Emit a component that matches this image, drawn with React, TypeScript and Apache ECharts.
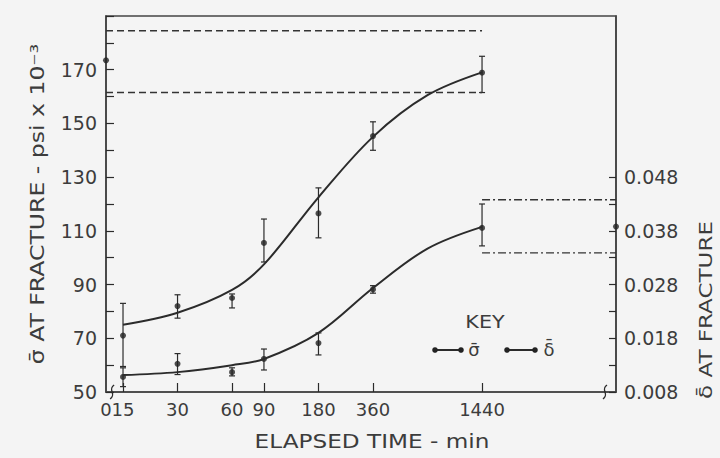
import React, { useEffect, useRef } from 'react';
import * as echarts from 'echarts';

// ---- data ----
const times = [15, 30, 60, 90, 180, 360, 1440];
// mean fracture stress (psi x 10^-3) with error-bar limits
const sigmaMean = [71, 82, 85, 105.5, 116.5, 145.3, 168.9];
const sigmaLow = [59.5, 77.5, 81.3, 98.4, 107.4, 140, 161.5];
const sigmaHigh = [83, 86.2, 86.5, 114.4, 126, 150.6, 175];
// mean fracture deflection with error-bar limits
const deltaMean = [0.0108, 0.01325, 0.0117, 0.01415, 0.0171, 0.0271, 0.03855];
const deltaLow = [0.009, 0.01125, 0.011, 0.0121, 0.0149, 0.0264, 0.0352];
const deltaHigh = [0.0125, 0.01515, 0.0125, 0.016, 0.019, 0.0278, 0.043];

// fitted curves
const curveTimes = [15, 30, 60, 90, 180, 360, 720, 1440];
const sigmaCurve = [75, 79.5, 88, 97.5, 122.5, 145, 160.5, 169];
const deltaCurve = [0.01115, 0.0117, 0.013, 0.01415, 0.019, 0.02735, 0.0347, 0.03875];

// control (unexposed) values and scatter bands
const sigmaControl = 173.5;
const sigmaControlBand = [161.5, 184.5];
const deltaControl = 0.0388;
const deltaControlBand = [0.0339, 0.0438];

// axes
const xTickTimes = [0, 15, 30, 60, 90, 180, 360, 1440];
const xTickLabels = ['0', '15', '30', '60', '90', '180', '360', '1440'];
const leftLabels = [50, 70, 90, 110, 130, 150, 170];
const rightTicks = [0.008, 0.013, 0.018, 0.023, 0.028, 0.033, 0.038, 0.043, 0.048];
const rightLabels = [0.008, 0.018, 0.028, 0.038, 0.048];

// ---- scale helpers ----
const X_MIN = -0.312;
const X_MAX = 9.042;
const pos = (t: number) => (t === 0 ? X_MIN + 0.0005 : Math.log2(t / 15));
const breakPositions = [-0.2, 8.84];

const INK = '#2b2b2b';
const TXT = '#3c3c3c';
const FONT = 'DejaVu Sans';

function errorBarSeries(yAxisIndex: number, lows: number[], highs: number[]) {
  return {
    type: 'custom',
    yAxisIndex,
    silent: true,
    data: times.map((t, i) => [pos(t), lows[i], highs[i]]),
    encode: { x: 0, y: [1, 2] },
    renderItem: (_p: any, api: any) => {
      const lo = api.coord([api.value(0), api.value(1)]);
      const hi = api.coord([api.value(0), api.value(2)]);
      const w = 3;
      const style = { stroke: INK, lineWidth: 1.2 };
      return {
        type: 'group',
        children: [
          { type: 'line', shape: { x1: lo[0], y1: lo[1], x2: hi[0], y2: hi[1] }, style },
          { type: 'line', shape: { x1: lo[0] - w, y1: lo[1], x2: lo[0] + w, y2: lo[1] }, style },
          { type: 'line', shape: { x1: hi[0] - w, y1: hi[1], x2: hi[0] + w, y2: hi[1] }, style },
        ],
      };
    },
  };
}

export default function App() {
  const ref = useRef<HTMLDivElement>(null);

  useEffect(() => {
    if (!ref.current) return;
    const chart = echarts.init(ref.current, undefined, { renderer: 'svg' });

    const xTickPos = xTickTimes.map(pos);

    const option: any = {
      animation: false,
      backgroundColor: '#f4f4f4',
      textStyle: { fontFamily: FONT },
      grid: {
        left: 106,
        right: 104,
        top: 16,
        bottom: 66,
        show: true,
        borderColor: '#444',
        borderWidth: 1.6,
        backgroundColor: 'transparent',
      },
      xAxis: {
        type: 'value',
        min: X_MIN,
        max: X_MAX,
        splitLine: { show: false },
        axisLine: { show: true, onZero: false, lineStyle: { color: '#444', width: 1.6 } },
        axisTick: {
          show: true,
          inside: true,
          length: 9,
          customValues: xTickPos.slice(1),
          lineStyle: { color: INK, width: 1.2 },
        },
        axisLabel: {
          show: true,
          customValues: xTickPos,
          showMinLabel: true,
          showMaxLabel: true,
          hideOverlap: false,
          margin: 8,
          fontSize: 18,
          color: TXT,
          fontFamily: FONT,
          formatter: (v: number) => {
            const i = xTickPos.findIndex((p) => Math.abs(p - v) < 1e-6);
            return i >= 0 ? xTickLabels[i] : '';
          },
        },
      },
      yAxis: [
        {
          type: 'value',
          min: 50,
          max: 190,
          interval: 10,
          splitLine: { show: false },
          axisLine: { show: true, onZero: false, lineStyle: { color: '#444', width: 1.6 } },
          axisTick: { show: true, inside: true, length: 8, lineStyle: { color: INK, width: 1.2 } },
          axisLabel: {
            margin: 9,
            fontSize: 19,
            color: TXT,
            fontFamily: FONT,
            formatter: (v: number) => (leftLabels.includes(Math.round(v)) ? String(Math.round(v)) : ''),
          },
        },
        {
          type: 'value',
          position: 'right',
          min: 0.008,
          max: 0.078,
          splitLine: { show: false },
          axisLine: { show: true, onZero: false, lineStyle: { color: '#444', width: 1.6 } },
          axisTick: {
            show: true,
            inside: true,
            length: 7,
            customValues: rightTicks,
            lineStyle: { color: INK, width: 1.2 },
          },
          axisLabel: {
            customValues: rightLabels,
            margin: 8,
            fontSize: 19,
            color: TXT,
            fontFamily: FONT,
            formatter: (v: number) => v.toFixed(3),
          },
        },
      ],
      series: [
        // control scatter band of stress (dashed)
        ...sigmaControlBand.map((b) => ({
          type: 'line',
          yAxisIndex: 0,
          silent: true,
          symbol: 'none',
          data: [
            [pos(0), b],
            [pos(1440), b],
          ],
          lineStyle: { color: '#333', width: 1.5, type: [7, 4] },
        })),
        // control scatter band of deflection (dash-dot)
        ...deltaControlBand.map((b) => ({
          type: 'line',
          yAxisIndex: 1,
          silent: true,
          symbol: 'none',
          data: [
            [pos(1440), b],
            [X_MAX, b],
          ],
          lineStyle: { color: '#333', width: 1.4, type: [8, 3, 2, 3] },
        })),
        // fitted curves
        {
          type: 'line',
          yAxisIndex: 0,
          silent: true,
          symbol: 'none',
          smooth: 0.35,
          data: curveTimes.map((t, i) => [pos(t), sigmaCurve[i]]),
          lineStyle: { color: INK, width: 2 },
        },
        {
          type: 'line',
          yAxisIndex: 1,
          silent: true,
          symbol: 'none',
          smooth: 0.35,
          data: curveTimes.map((t, i) => [pos(t), deltaCurve[i]]),
          lineStyle: { color: INK, width: 2 },
        },
        // error bars
        errorBarSeries(0, sigmaLow, sigmaHigh),
        errorBarSeries(1, deltaLow, deltaHigh),
        // mean points
        {
          type: 'scatter',
          yAxisIndex: 0,
          symbol: 'circle',
          symbolSize: 6,
          itemStyle: { color: '#222' },
          data: [[pos(0), sigmaControl], ...times.map((t, i) => [pos(t), sigmaMean[i]])],
        },
        {
          type: 'scatter',
          yAxisIndex: 1,
          symbol: 'circle',
          symbolSize: 6,
          itemStyle: { color: '#222' },
          data: [...times.map((t, i) => [pos(t), deltaMean[i]]), [X_MAX, deltaControl]],
        },
        // axis break marks
        {
          type: 'custom',
          yAxisIndex: 0,
          silent: true,
          data: breakPositions.map((p) => [p, 50]),
          encode: { x: 0, y: 1 },
          renderItem: (_p: any, api: any) => {
            const c = api.coord([api.value(0), api.value(1)]);
            return {
              type: 'bezierCurve',
              shape: {
                x1: c[0] - 2,
                y1: c[1] + 7,
                cpx1: c[0] + 5,
                cpy1: c[1] + 2,
                cpx2: c[0] - 5,
                cpy2: c[1] - 2,
                x2: c[0] + 2,
                y2: c[1] - 7,
              },
              style: { stroke: INK, lineWidth: 1.4, fill: 'none' },
            };
          },
        },
      ],
      graphic: [
        {
          type: 'text',
          x: 37,
          y: 204,
          rotation: Math.PI / 2,
          scaleX: 1.24,
          style: {
            text: 'σ̄ AT FRACTURE - psi x 10⁻³',
            fontSize: 19,
            fontFamily: FONT,
            fill: TXT,
            align: 'center',
            verticalAlign: 'middle',
          },
        },
        {
          type: 'text',
          x: 706,
          y: 310,
          rotation: Math.PI / 2,
          scaleX: 1.28,
          style: {
            text: 'δ̄ AT FRACTURE',
            fontSize: 18,
            fontFamily: FONT,
            fill: TXT,
            align: 'center',
            verticalAlign: 'middle',
          },
        },
        {
          type: 'text',
          x: 372,
          y: 441,
          scaleX: 1.22,
          style: {
            text: 'ELAPSED TIME - min',
            fontSize: 19,
            fontFamily: FONT,
            fill: TXT,
            align: 'center',
            verticalAlign: 'middle',
          },
        },
        // key
        {
          type: 'text',
          x: 485,
          y: 322,
          scaleX: 1.15,
          style: { text: 'KEY', fontSize: 18, fontFamily: FONT, fill: TXT, align: 'center', verticalAlign: 'middle' },
        },
        { type: 'line', shape: { x1: 435, y1: 350, x2: 461, y2: 350 }, style: { stroke: INK, lineWidth: 2 } },
        { type: 'circle', shape: { cx: 435, cy: 350, r: 2.8 }, style: { fill: '#222' } },
        { type: 'circle', shape: { cx: 461, cy: 350, r: 2.8 }, style: { fill: '#222' } },
        {
          type: 'text',
          x: 474,
          y: 349,
          style: { text: 'σ̄', fontSize: 18, fontFamily: FONT, fill: TXT, align: 'center', verticalAlign: 'middle' },
        },
        { type: 'line', shape: { x1: 507, y1: 350, x2: 535, y2: 350 }, style: { stroke: INK, lineWidth: 2 } },
        { type: 'circle', shape: { cx: 507, cy: 350, r: 2.8 }, style: { fill: '#222' } },
        { type: 'circle', shape: { cx: 535, cy: 350, r: 2.8 }, style: { fill: '#222' } },
        {
          type: 'text',
          x: 549,
          y: 349,
          style: { text: 'δ̄', fontSize: 18, fontFamily: FONT, fill: TXT, align: 'center', verticalAlign: 'middle' },
        },
      ],
    };

    chart.setOption(option);
    return () => chart.dispose();
  }, []);

  return (
    <div
      ref={ref}
      style={{ position: 'absolute', left: 0, top: 0, width: 720, height: 458, background: '#f4f4f4' }}
    />
  );
}
